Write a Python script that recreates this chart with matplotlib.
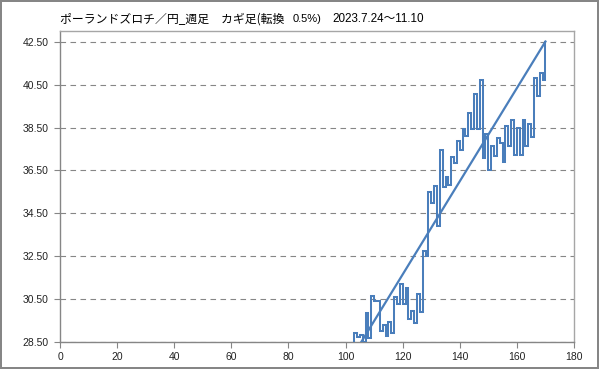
import numpy as np
import matplotlib
matplotlib.use("Agg")
import matplotlib.pyplot as plt

# kagi line levels (value reached by each vertical stroke), weekly PLN/JPY
kagi_start = 103
kagi_base = 28.5
kagi_values = [28.9, 28.75, 28.82, 28.5, 29.85, 28.7, 30.66, 30.4, 30.4, 29.0,
               29.3, 28.8, 29.43, 28.9, 30.6, 30.27, 31.2, 30.27, 31.0, 29.57,
               29.95, 29.37, 30.73, 29.89, 32.75, 32.53, 35.51, 34.97, 35.78, 33.9,
               37.43, 35.75, 36.19, 35.83, 37.12, 36.84, 37.85, 37.46, 38.42, 38.11,
               39.17, 38.42, 40.07, 38.42, 40.73, 37.07, 38.2, 36.53, 37.65, 37.15,
               38.0, 37.77, 36.87, 38.58, 37.65, 38.86, 37.23, 38.47, 37.23, 38.83,
               37.65, 38.67, 38.08, 40.8, 39.95, 41.04, 40.73, 42.51]

# straight line
trend_x = [105.5, 170]
trend_y = [28.5, 42.51]

yticks = [28.5, 30.5, 32.5, 34.5, 36.5, 38.5, 40.5, 42.5]
xticks = [0, 20, 40, 60, 80, 100, 120, 140, 160, 180]

title_main = "ポーランドズロチ／円_週足　カギ足(転換"
title_pct = "0.5%)"
title_dates = "2023.7.24～11.10"

blue = "#4A7EBB"
gray = "#868686"

fig = plt.figure(figsize=(5.99, 3.69), dpi=100)
fig.patch.set_facecolor("white")
fig.patch.set_edgecolor(gray)
fig.patch.set_linewidth(1.5)

ax = fig.add_axes([60 / 599, 1 - 342 / 369, 514 / 599, 311 / 369])

# build kagi path: vertical at each x, then horizontal to the next x
kx = np.arange(kagi_start, kagi_start + len(kagi_values))
kv = np.array(kagi_values)
px = np.repeat(kx, 2)
py = np.empty(len(px))
py[0::2] = np.r_[kagi_base, kv[:-1]]
py[1::2] = kv
ax.plot(px, py, color=blue, lw=1.45, solid_joinstyle="miter", zorder=3)
ax.plot(trend_x, trend_y, color=blue, lw=1.6, zorder=3)

ax.set_xlim(0, 180)
ax.set_ylim(28.5, 43.0)
ax.set_xticks(xticks)
ax.set_yticks(yticks)
ax.set_yticklabels([f"{v:.2f}" for v in yticks])
ax.yaxis.grid(True, color=gray, lw=0.8, linestyle=(0, (5, 4)))
ax.set_axisbelow(True)

for s in ["left", "bottom"]:
    ax.spines[s].set_color(gray)
    ax.spines[s].set_linewidth(1.0)
for s in ["top", "right"]:
    ax.spines[s].set_color("#A6A6A6")
    ax.spines[s].set_linewidth(1.0)

ax.tick_params(axis="both", direction="out", length=4, width=0.8, color=gray,
               labelsize=7.5, labelcolor="#222222")
ax.tick_params(axis="y", pad=4)
ax.tick_params(axis="x", pad=3)
for lab in ax.get_xticklabels() + ax.get_yticklabels():
    lab.set_fontfamily("Liberation Sans")

fig.text(60 / 599, 1 - 19 / 369, title_main, fontsize=8.55,
         family=["Noto Sans CJK JP", "DejaVu Sans"], va="center", ha="left", color="black")
fig.text(293 / 599, 1 - 19.5 / 369, title_pct, fontsize=8.0,
         family=["Liberation Sans", "DejaVu Sans"], va="center", ha="left", color="black")
fig.text(332 / 599, 1 - 19.5 / 369, title_dates, fontsize=8.4,
         family=["Liberation Sans", "Noto Sans CJK JP"], va="center", ha="left", color="black")

fig.savefig("out.png", dpi=100, facecolor=fig.get_facecolor(), edgecolor=fig.get_edgecolor())
